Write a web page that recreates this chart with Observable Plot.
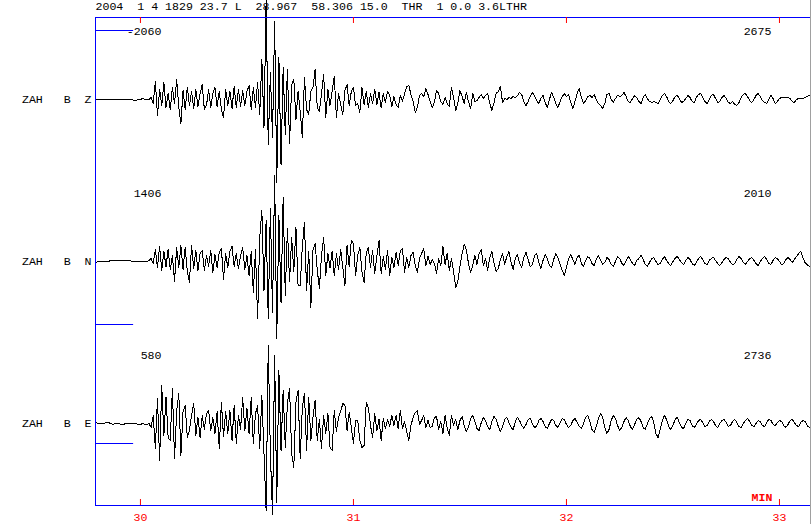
<!DOCTYPE html>
<html><head><meta charset="utf-8">
<script src="https://cdn.jsdelivr.net/npm/d3@7"></script>
<script src="https://cdn.jsdelivr.net/npm/@observablehq/plot@0.6"></script>
<style>
body{margin:0;background:#fff;}
#chart{width:810px;height:524px;border-right:1px solid #a0a0a0;}
</style></head><body><div id="chart"></div>
<script>
const titleText = "2004  1 4 1829 23.7 L  28.967  58.306 15.0  THR  1 0.0 3.6LTHR";
const stations = ["ZAH   B  Z", "ZAH   B  N", "ZAH   B  E"];
const leftAmps = ["-2060", "1406", "580"];
const rightAmps = ["2675", "2010", "2736"];
const markerLevels = [69, -63, -20];
const timeTicks = [30, 31, 32, 33];
const timeDomain = [29.789, 33.141];
const timeStart = 29.79;   // minutes
const sampleStep = 0.01;   // minutes

const zValues = [
0,0,0,0,0,0,0,0,0,0,
0,0,0,0,0,0,0,0,-1,-1,
0,0,1,0,0,0,2,-4,18,-16,
10,-6,17,-8,6,-10,12,-4,20,-8,
-24,9,-10,12,-6,8,-9,10,-7,6,
15,-10,-6,10,-8,6,12,-7,8,-10,
-18,10,-6,8,-9,13,-8,10,-7,9,
-6,8,14,-10,12,-8,17,-15,40,-28,
99,-45,27,-38,78,-83,42,-65,32,-35,
30,-44,15,20,-20,8,-12,-38,22,-10,
-15,8,12,30,-8,-12,6,25,-18,10,
-6,8,23,-18,6,-5,-15,9,15,-6,
8,12,-6,-4,-13,12,-5,8,-8,6,
-4,10,-5,7,-8,6,-3,8,4,-7,
3,-5,-8,4,-2,6,13,14,5,-2,
-13,-8,4,6,3,11,5,-2,-8,-3,
9,6,-2,-5,2,-4,-7,12,2,-11,
-4,9,3,-4,7,-2,-9,6,-2,-1,
2,5,1,4,6,-4,-11,-3,6,8,
13,-3,1,0,2,1,3,2,4,7,
5,-2,-6,-2,3,7,4,-1,-4,1,
4,-3,-8,0,7,2,-4,-8,-2,3,
6,3,5,-3,-9,-2,6,11,2,-4,
-1,3,4,2,5,0,-4,-6,-9,-4,
5,6,0,-3,1,4,3,4,7,3,
-2,-3,1,4,2,-2,-4,2,5,1,
-2,-3,-2,-3,-4,0,4,6,3,-2,
-4,-1,3,4,1,-3,-2,1,4,2,
-2,-3,2,5,6,2,-2,-4,0,4,
5,1,-3,-2,2,4,1,-3,-4,-2,
-5,-6,-3,2,5,6,3,-1,-3,0,
4,6,3,-1,-3,-4,0,4,1,-4,
-2,1,2,2,2,2,1,-2,-3,0,
1,1,1,2,3,4
];

const nValues = [
-1,0,0,0,0,0,0,1,1,1,
1,1,1,1,1,1,1,0,0,0,
0,0,0,0,0,1,3,-2,12,-6,
15,-9,10,-5,12,-8,6,-20,14,-6,
16,-8,14,-10,-21,16,-7,11,-9,8,
11,-9,6,-5,11,-11,7,-6,9,13,
-18,8,-6,10,15,-5,8,-7,6,14,
-8,6,-14,10,-31,12,-57,24,51,-29,
41,-57,53,-51,86,-77,46,-41,64,-34,
33,-20,24,-10,34,-24,-24,15,39,-29,
10,-46,11,18,-8,-27,6,24,-14,8,
-6,10,-14,8,-8,12,-6,-24,16,-5,
21,18,-14,6,14,-10,-21,8,14,-6,
11,-12,6,21,-12,5,-8,11,-14,4,
-6,9,-4,11,13,-11,4,-6,6,9,
-4,-11,3,8,13,-4,5,-3,2,-2,
-12,3,-4,15,-3,8,-9,3,-10,-26,
-20,-5,8,17,12,-2,-11,-4,6,-3,
8,12,-4,3,-9,4,10,-2,-10,-7,
2,8,-3,5,10,-1,-8,3,7,-2,
-6,4,9,2,-5,-3,6,8,-1,-7,
1,7,3,-4,-6,2,8,4,-3,-9,
-14,-6,3,7,2,-3,4,6,-2,-5,
1,5,3,-2,-4,2,6,1,-3,-1,
4,2,-3,-5,0,5,3,-2,-4,1,
5,2,-2,-4,1,3,6,2,-3,-5,
-1,3,4,0,-3,-2,2,5,1,-2,
-4,0,3,5,2,-1,-3,1,4,2,
-2,-4,-1,3,5,2,-2,-3,1,3,
4,1,-2,-4,-1,2,4,3,-1,-3,
-2,2,5,3,-1,-3,0,3,4,1,
-2,-4,0,3,5,2,-2,-3,1,4,
3,0,-3,-2,2,4,2,-1,2,5,
8,10,4,-1,-3,-5
];

const eValues = [
1,0,0,0,0,1,1,0,-1,0,
0,0,-1,-1,0,0,0,0,0,0,
-1,-1,0,-1,-1,0,-4,8,-25,25,
-37,38,-12,26,-14,-17,35,-35,12,30,
-32,12,18,-14,-7,8,20,-12,6,-14,
8,-6,10,13,-7,6,-10,12,-25,21,
-13,12,-10,13,-17,18,-20,8,-6,26,
-7,15,-10,26,-20,10,18,-25,28,-30,
-87,78,-30,-91,68,-79,53,-27,33,-24,
20,35,-30,-44,21,33,-35,16,30,-27,
26,-17,6,23,-17,4,-25,8,-10,10,
-24,-27,13,-8,6,12,20,18,-7,11,
-4,-20,3,3,-17,-24,-22,21,16,-2,
-14,10,-7,4,-17,5,-5,4,-3,8,
-2,8,-5,13,-5,2,-8,-17,-2,6,
11,13,-1,3,8,-4,3,-4,-3,6,
7,-6,2,-10,8,-4,-12,8,-2,4,
-6,3,7,-2,-8,-4,5,8,2,-5,
-7,1,6,3,-3,-6,2,7,4,-3,
-8,-3,4,6,1,-4,-6,2,6,3,
-2,-5,-1,4,5,0,-4,-3,3,5,
2,-3,-5,0,4,3,-2,-4,1,5,
4,-1,-4,-2,3,5,1,-3,-5,0,
6,8,2,-6,-9,-3,5,10,6,-4,
-10,-6,3,8,5,-2,-7,-4,2,6,
3,-3,-6,-1,4,6,2,-4,-6,0,
5,7,1,-10,-14,-6,3,8,4,-3,
-6,-2,4,6,1,-4,-5,0,4,3,
-2,-4,-1,3,4,1,-3,-2,2,4,
2,-2,-4,0,3,4,1,-3,-2,2,
4,1,-3,-4,0,3,5,2,-2,-3,
0,3,2,-2,-3,1,4,3,-1,-2,
1,3,2,-2,-4,-1,3,4,1,-2,
-3,1,3,2,-2,-4
];

const traces = [zValues, nValues, eValues];
const spacing = 162;               // vertical separation of the three traces
const base = (k) => (1 - k) * spacing;
const rows = traces.flatMap((vals, k) =>
  vals.map((v, i) => ({k, t: timeStart + i * sampleStep, y: base(k) + v})));

const font = {fontFamily: "'Liberation Mono', 'DejaVu Sans Mono', monospace", fontSize: 11.6};
const plotH = 524 - 17 - 19;

const chart = Plot.plot({
  width: 810, height: 524,
  marginLeft: 95, marginRight: 1, marginTop: 17, marginBottom: 19,
  x: {domain: timeDomain, axis: null},
  y: {domain: [-244, 244], axis: null},
  style: {background: "#fff", overflow: "visible"},
  marks: [
    Plot.ruleY(stations, {y: (d, i) => base(i) + markerLevels[i], x1: timeDomain[0], x2: timeDomain[0] + 0.179, stroke: "blue"}),
    Plot.line(rows, {x: "t", y: "y", z: "k", stroke: "black", strokeWidth: 1, shapeRendering: "crispEdges"}),
    Plot.frame({anchor: "top", stroke: "blue"}),
    Plot.frame({anchor: "left", stroke: "blue"}),
    Plot.frame({anchor: "bottom", stroke: "blue"}),
    Plot.tickX(timeTicks, {x: d => d, stroke: "red", insetBottom: plotH - 6}),
    Plot.tickX(timeTicks, {x: d => d, stroke: "red", insetTop: plotH - 6}),
    Plot.text(timeTicks, {x: d => d, text: d => String(d), frameAnchor: "bottom", dy: 12, fill: "red", lineAnchor: "middle", ...font}),
    Plot.text(["MIN"], {x: () => timeTicks[timeTicks.length - 1], text: d => d, frameAnchor: "bottom", textAnchor: "end", dx: -7, dy: -8, fill: "red", fontWeight: "bold", lineAnchor: "middle", ...font}),
    Plot.text(stations, {y: (d, i) => base(i), text: d => d, frameAnchor: "left", textAnchor: "end", dx: -4, fill: "black", lineAnchor: "middle", ...font}),
    Plot.text(leftAmps, {y: (d, i) => base(i) + 68, text: d => d, frameAnchor: "left", textAnchor: "end", dx: 66, fill: "black", lineAnchor: "middle", ...font}),
    Plot.text(rightAmps, {y: (d, i) => base(i) + 68, text: d => d, frameAnchor: "right", textAnchor: "end", dx: -38, fill: "black", lineAnchor: "middle", ...font}),
    Plot.text([titleText], {text: d => d, frameAnchor: "top-left", textAnchor: "start", dy: -11, fill: "black", lineAnchor: "middle", ...font})
  ]
});
document.getElementById("chart").appendChild(chart);
</script>
</body></html>
